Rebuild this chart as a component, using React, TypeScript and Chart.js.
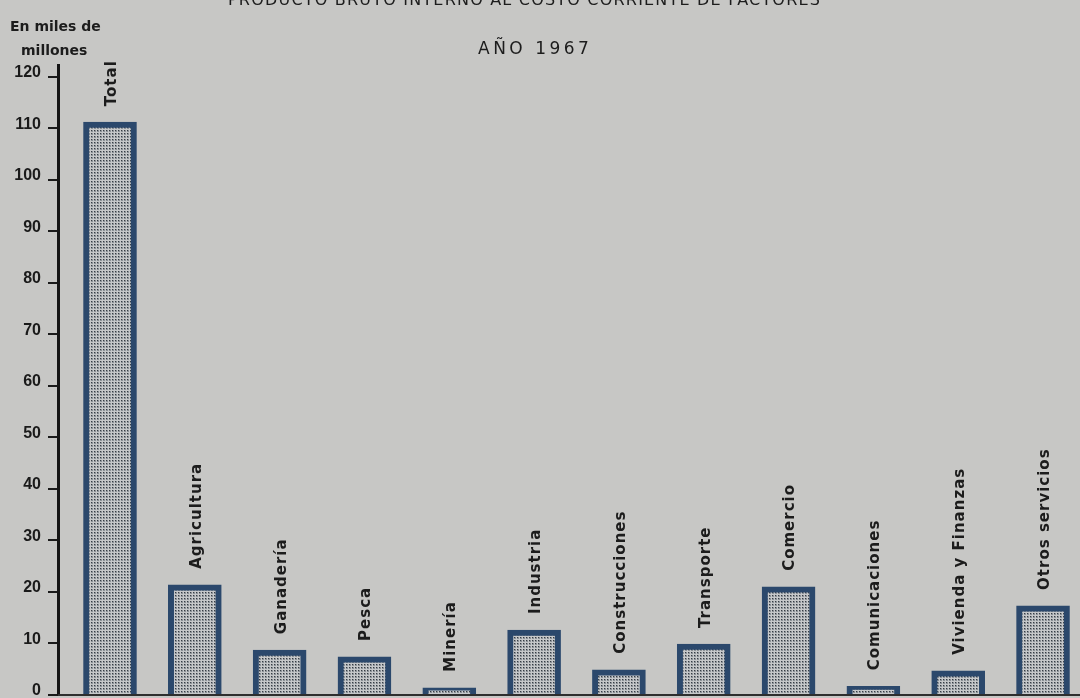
import React, { useEffect, useRef } from "react";
import { Chart, registerables } from "chart.js";

Chart.register(...registerables);

const categories = [
  "Total",
  "Agricultura",
  "Ganadería",
  "Pesca",
  "Minería",
  "Industria",
  "Construcciones",
  "Transporte",
  "Comercio",
  "Comunicaciones",
  "Vivienda y Finanzas",
  "Otros servicios",
];
const values = [111.2, 21.4, 8.7, 7.4, 1.4, 12.6, 4.9, 9.9, 21.0, 1.7, 4.7, 17.3];
const yTicks = [0, 10, 20, 30, 40, 50, 60, 70, 80, 90, 100, 110, 120];

const titleText = "PRODUCTO BRUTO INTERNO AL COSTO CORRIENTE DE FACTORES";
const yearText = "AÑO 1967";
const unitLine1 = "En miles de";
const unitLine2 = "millones";

const BG = "#c7c7c5";

export default function App() {
  const ref = useRef<HTMLCanvasElement | null>(null);

  useEffect(() => {
    const canvas = ref.current;
    if (!canvas) return;
    const ctx = canvas.getContext("2d")!;

    const tile = document.createElement("canvas");
    tile.width = 3;
    tile.height = 3;
    const tctx = tile.getContext("2d")!;
    tctx.fillStyle = "#c6c8ca";
    tctx.fillRect(0, 0, 3, 3);
    tctx.fillStyle = "#8a9096";
    tctx.fillRect(2, 1, 1, 1);
    tctx.fillRect(1, 2, 1, 1);
    tctx.fillRect(2, 2, 1, 1);
    tctx.fillStyle = "#363c44";
    tctx.fillRect(1, 1, 1, 1);
    const pattern = ctx.createPattern(tile, "repeat")!;

    const labelPlugin = {
      id: "barLabels",
      afterDatasetsDraw(chart: any) {
        const c = chart.ctx;
        const meta = chart.getDatasetMeta(0);
        const area = chart.chartArea;
        c.save();
        const y0 = chart.scales.y.getPixelForValue(0);
        c.strokeStyle = "#2e2e2e";
        c.lineWidth = 2;
        c.beginPath();
        c.moveTo(area.left, y0);
        c.lineTo(area.right, y0);
        c.stroke();
        c.fillStyle = "#1c1c1c";
        c.font = 'bold 15px "DejaVu Sans"';
        try {
          (c as any).letterSpacing = "1px";
        } catch (e) {}
        c.textAlign = "left";
        c.textBaseline = "middle";
        meta.data.forEach((el: any, i: number) => {
          c.save();
          c.translate(el.x + 2, el.y - 16);
          c.rotate(-Math.PI / 2);
          c.fillText(categories[i], 0, 0);
          c.restore();
        });
        c.restore();
      },
    };

    const chart = new Chart(ctx, {
      type: "bar",
      data: {
        datasets: [
          {
            data: values.map((v, i) => ({ x: i, y: v })),
            backgroundColor: pattern,
            borderColor: "#2b486c",
            borderWidth: 6,
            borderSkipped: "start",
            barThickness: 53,
          },
        ],
      },
      options: {
        responsive: false,
        animation: false,
        layout: { padding: { top: 65, bottom: 3, left: 0, right: 0 } },
        plugins: {
          legend: { display: false },
          tooltip: { enabled: false },
          title: { display: false },
        },
        scales: {
          x: {
            type: "linear",
            min: -0.613,
            max: 11.436,
            offset: false,
            display: false,
          },
          y: {
            min: 0,
            max: 122.3,
            afterBuildTicks: (axis: any) => {
              axis.ticks = yTicks.map((v) => ({ value: v }));
            },
            afterFit: (axis: any) => {
              axis.width = 58;
              axis.paddingTop = 0;
              axis.paddingBottom = 0;
            },
            ticks: {
              color: "#1a1a1a",
              font: { family: "Liberation Sans", size: 16, weight: "bold" },
              padding: 7,
              labelOffset: -4,
            },
            grid: {
              drawOnChartArea: false,
              drawTicks: true,
              tickLength: 10,
              color: "#1a1a1a",
              lineWidth: 2,
            },
            border: { display: true, color: "#151515", width: 3 },
          },
        },
      },
      plugins: [labelPlugin],
    });

    return () => chart.destroy();
  }, []);

  const textBase: React.CSSProperties = {
    position: "absolute",
    whiteSpace: "nowrap",
    color: "#1c1c1c",
    fontFamily: '"DejaVu Sans", sans-serif',
  };

  return (
    <div
      style={{
        position: "absolute",
        left: 0,
        top: 0,
        width: 1080,
        height: 698,
        overflow: "hidden",
        background: BG,
      }}
    >
      <canvas ref={ref} width={1080} height={698} style={{ display: "block", width: 1080, height: 698 }} />
      <div style={{ ...textBase, left: 228, top: -8, fontSize: 16, lineHeight: "16px", letterSpacing: "1.2px" }}>
        {titleText}
      </div>
      <div style={{ ...textBase, left: 478, top: 39.6, fontSize: 17, lineHeight: "17px", letterSpacing: "3.5px" }}>
        {yearText}
      </div>
      <div style={{ ...textBase, left: 10, top: 19, fontSize: 14, lineHeight: "14px", fontWeight: "bold" }}>
        {unitLine1}
      </div>
      <div style={{ ...textBase, left: 21, top: 43, fontSize: 14, lineHeight: "14px", fontWeight: "bold" }}>
        {unitLine2}
      </div>
    </div>
  );
}
